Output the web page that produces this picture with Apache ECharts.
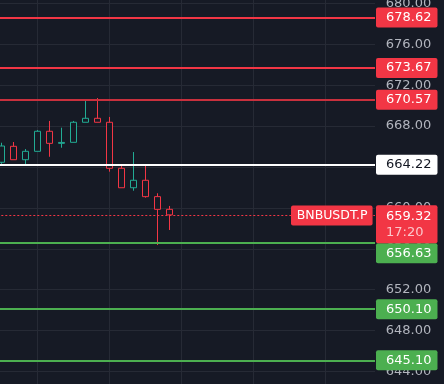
<!DOCTYPE html>
<html>
<head>
<meta charset="utf-8">
<script src="https://cdn.jsdelivr.net/npm/echarts@6/dist/echarts.min.js"></script>
<style>html,body{margin:0;padding:0;background:#161a25;}#c{width:444px;height:384px;}</style>
</head>
<body>
<div id="c"></div>
<script>
// candle slot positions (bar index on the time axis)
const slots = [3, 4, 5, 6, 7, 8, 9, 10, 11, 12, 13, 14, 15, 16, 17];
const open  = [664.46, 666.02, 664.71, 665.53, 667.49, 666.31, 666.41, 668.37, 668.76, 668.37, 663.87, 661.97, 662.70, 661.10, 659.86];
const close = [666.05, 664.71, 665.53, 667.49, 666.31, 666.40, 668.37, 668.76, 668.37, 663.87, 661.97, 662.70, 661.10, 659.86, 659.32];
const low   = [664.30, 664.71, 664.22, 665.53, 665.00, 665.88, 666.41, 668.37, 668.37, 663.54, 661.97, 661.68, 661.00, 656.37, 657.84];
const high  = [666.37, 666.44, 665.75, 667.61, 668.50, 667.84, 668.50, 670.45, 670.74, 668.89, 664.29, 665.46, 664.29, 661.43, 660.19];

const resistanceLevels = [678.62, 673.67, 670.57];
const pivotLevel = 664.22;
const supportLevels = [656.63, 650.10, 645.10];
const lastPrice = 659.32;
const symbolName = 'BNBUSDT.P';
const countdown = '17:20';

const RED = '#f23645', GREEN = '#4caf50', TEAL = '#22ab94', BG = '#161a25';
const FONT = 'DejaVu Sans';

const candleData = slots.map((s, i) => [s, open[i], close[i], low[i], high[i]]);

function boxLabel(bg, fg, offsetY) {
  return {
    show: true, position: 'end', distance: 1,
    formatter: p => p.value.toFixed(2),
    backgroundColor: bg, color: fg, borderRadius: 2,
    padding: [3, 6, 3, 10], fontFamily: FONT, fontSize: 13, lineHeight: 14,
    offset: [0, offsetY || 0]
  };
}

const lines = [];
resistanceLevels.forEach((v, i) => {
  lines.push({ yAxis: v, lineStyle: { color: i === 2 ? '#c9303d' : RED, width: 2, type: 'solid' }, label: boxLabel(RED, '#ffffff') });
});
lines.push({ yAxis: pivotLevel, lineStyle: { color: '#ffffff', width: 2, type: 'solid' }, label: boxLabel('#ffffff', '#131722') });
supportLevels.forEach((v, i) => {
  lines.push({ yAxis: v, lineStyle: { color: GREEN, width: 2, type: 'solid' }, label: boxLabel(GREEN, '#ffffff', i === 0 ? 10.9 : 0) });
});
// last price dotted line with price + countdown box
lines.push({
  yAxis: lastPrice, lineStyle: { color: RED, width: 1, type: [2, 2] },
  label: {
    show: true, position: 'end', distance: 1,
    formatter: p => '{p|' + p.value.toFixed(2) + '}\n{t|' + countdown + '}',
    backgroundColor: RED, borderRadius: 2, padding: [3, 6, 3, 10],
    offset: [0, 9.3],
    rich: {
      p: { color: '#ffffff', fontFamily: FONT, fontSize: 13, lineHeight: 16 },
      t: { color: 'rgba(255,255,255,0.72)', fontFamily: FONT, fontSize: 13, lineHeight: 16 }
    }
  }
});
// symbol tag left of the price box
lines.push({
  yAxis: lastPrice, lineStyle: { color: 'rgba(0,0,0,0)', width: 0 },
  label: {
    show: true, position: 'end', distance: 1,
    formatter: () => symbolName,
    backgroundColor: RED, color: '#ffffff', borderRadius: 2,
    padding: [3, 5, 3, 5.7], fontFamily: FONT, fontSize: 12.5, lineHeight: 14,
    offset: [-85, 0.6]
  }
});

const chart = echarts.init(document.getElementById('c'), null, { renderer: 'canvas' });
chart.setOption({
  backgroundColor: BG,
  animation: false,
  grid: { left: -34.7, right: 69, top: -37.62, height: 450.12, containLabel: false, outerBoundsMode: 'none' },
  xAxis: {
    type: 'value', min: 0, max: 34.14, interval: 6,
    axisLine: { show: false }, axisTick: { show: false }, axisLabel: { show: false },
    splitLine: { show: true, showMaxLine: false, showMinLine: false, lineStyle: { color: '#262a35', width: 1 } }
  },
  yAxis: {
    type: 'value', position: 'right', min: 640, max: 684, interval: 4,
    axisLine: { show: false }, axisTick: { show: false },
    axisLabel: { color: '#b2b5be', fontFamily: FONT, fontSize: 13, margin: 33.5, align: 'center', formatter: v => v.toFixed(2) },
    splitLine: { show: true, lineStyle: { color: '#262a35', width: 1 } }
  },
  series: [{
    type: 'candlestick',
    data: candleData,
    encode: { x: 0, y: [1, 2, 3, 4] },
    barWidth: 7,
    clip: false,
    itemStyle: { color: BG, color0: BG, borderColor: TEAL, borderColor0: RED, borderWidth: 1 },
    markLine: { silent: true, symbol: ['none', 'none'], animation: false, labelLayout: null, data: lines }
  }]
});
</script>
</body>
</html>
